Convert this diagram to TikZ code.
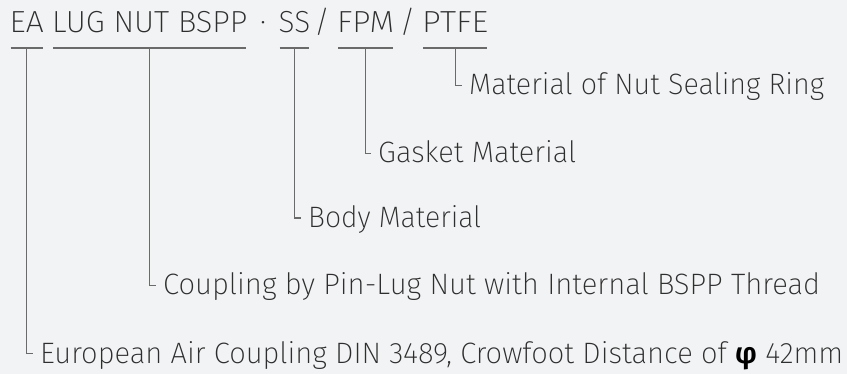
\documentclass[tikz,border=0pt]{standalone}
\usepackage{fontspec}
\setmainfont{Fira Sans ExtraLight}[BoldFont=Fira Sans SemiBold]
\usepackage{graphicx}
\definecolor{bg}{HTML}{F2F3F5}
\definecolor{txt}{HTML}{2E2E2E}
\definecolor{ln}{HTML}{6A6A6A}
\newsavebox\fitbox
\newlength\fitlen
\newcommand\fitw[2]{\sbox\fitbox{#2}\setlength\fitlen{\wd\fitbox}\pgfmathsetmacro\fitfac{#1/\fitlen}\scalebox{\fitfac}[1]{\usebox\fitbox}}
\tikzset{
  titletok/.style={anchor=base west, inner sep=0pt, font=\fontsize{30.5}{36}\selectfont, text=txt},
  labeltxt/.style={anchor=base west, inner sep=0pt, font=\fontsize{29.5}{34}\selectfont, text=txt},
  rule/.style={draw=ln, line width=1.2pt},
}
\begin{document}
\begin{tikzpicture}[x=1pt,y=-1pt]
\fill[bg] (0,0) rectangle (847,374);
\useasboundingbox (0,0) rectangle (847,374);
% title tokens
\node[titletok] (ea) at (9.5,33) {\fitw{34}{EA}};
\node[titletok] (lug) at (52,33) {\fitw{195}{LUG NUT BSPP}};
\node[titletok,anchor=base] (dot) at (263,33) {·};
\node[titletok] (ss) at (278.5,33) {\fitw{31.5}{SS}};
\node[titletok,anchor=base] (sl1) at (322,33) {/};
\node[titletok] (fpm) at (337,33) {\fitw{57}{FPM}};
\node[titletok,anchor=base] (sl2) at (407.5,33) {/};
\node[titletok] (ptfe) at (422,33) {\fitw{66}{PTFE}};
% underlines
\foreach \t in {ea,lug,ss,fpm,ptfe}{
  \draw[rule] ([shift={(1pt,-15pt)}]\t.base west) -- ([shift={(-1pt,-15pt)}]\t.base east);
}
% labels
\node[labeltxt] (lptfe) at (469,95) {\fitw{355}{Material of Nut Sealing Ring}};
\node[labeltxt] (lfpm) at (378,163) {\fitw{198}{Gasket Material}};
\node[labeltxt] (lss) at (308,227.5) {\fitw{173}{Body Material}};
\node[labeltxt] (llug) at (163,295) {\fitw{657}{Coupling by Pin-Lug Nut with Internal BSPP Thread}};
\node[labeltxt] (lea) at (40,363) {\fitw{803}{European Air Coupling DIN 3489, Crowfoot Distance of {\color{black}\textbf{φ}} 42mm}};
% hooks
\draw[rule] ([yshift=-15pt]ptfe.base) |- ([shift={(-7pt,9.5pt)}]lptfe.base west);
\draw[rule] ([yshift=-15pt]fpm.base) |- ([shift={(-7pt,9.5pt)}]lfpm.base west);
\draw[rule] ([yshift=-15pt]ss.base) |- ([shift={(-7pt,9.5pt)}]lss.base west);
\draw[rule] ([yshift=-15pt]lug.base) |- ([shift={(-7pt,9.5pt)}]llug.base west);
\draw[rule] ([yshift=-15pt]ea.base) |- ([shift={(-7pt,9.5pt)}]lea.base west);
\end{tikzpicture}
\end{document}
